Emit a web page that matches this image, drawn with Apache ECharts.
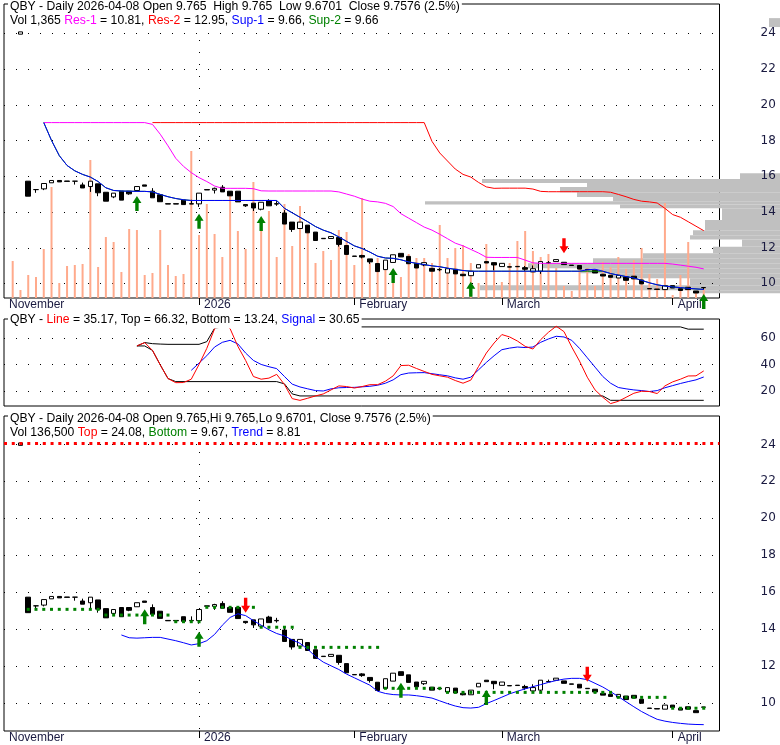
<!DOCTYPE html>
<html><head><meta charset="utf-8">
<script src="https://cdn.jsdelivr.net/npm/echarts@6/dist/echarts.min.js"></script>
<style>html,body{margin:0;padding:0;background:#fff}#c{width:780px;height:745px}</style>
</head><body><div id="c"></div>
<script>
const _ = null;
const dates = ['2025-11-26','2025-11-28',
'2025-12-01','2025-12-02','2025-12-03','2025-12-04','2025-12-05','2025-12-08','2025-12-09','2025-12-10','2025-12-11','2025-12-12','2025-12-15','2025-12-16','2025-12-17','2025-12-18','2025-12-19','2025-12-22','2025-12-23','2025-12-24','2025-12-26','2025-12-29','2025-12-30','2025-12-31',
'2026-01-02','2026-01-05','2026-01-06','2026-01-07','2026-01-08','2026-01-09','2026-01-12','2026-01-13','2026-01-14','2026-01-15','2026-01-16','2026-01-20','2026-01-21','2026-01-22','2026-01-23','2026-01-26','2026-01-27','2026-01-28','2026-01-29','2026-01-30',
'2026-02-02','2026-02-03','2026-02-04','2026-02-05','2026-02-06','2026-02-09','2026-02-10','2026-02-11','2026-02-12','2026-02-13','2026-02-17','2026-02-18','2026-02-19','2026-02-20','2026-02-23','2026-02-24','2026-02-25','2026-02-26','2026-02-27',
'2026-03-02','2026-03-03','2026-03-04','2026-03-05','2026-03-06','2026-03-09','2026-03-10','2026-03-11','2026-03-12','2026-03-13','2026-03-16','2026-03-17','2026-03-18','2026-03-19','2026-03-20','2026-03-23','2026-03-24','2026-03-25','2026-03-26','2026-03-27','2026-03-30','2026-03-31',
'2026-04-01','2026-04-02','2026-04-06','2026-04-07','2026-04-08'];

const opens  = [_,23.95,15.72,15.25,15.29,15.63,15.76,15.73,15.72,15.51, 15.42,15.57,15.10,14.84,15.16,15.16,15.20,15.51,15.16,14.96, 14.46,14.46,14.66,14.46,14.45,15.25,15.22,15.38,15.16,15.16, 14.41,14.49,14.15,14.64,14.46,13.94,13.43,13.07,13.26,12.87, 12.52,12.51,12.57,12.12,11.53,11.56,11.37,11.11,10.77,11.17, 11.68,11.51,11.12,11.03,10.84,10.78,10.58,10.79,10.51,10.43, 10.86,11.22,11.16,10.94,10.93,10.95,10.88,10.64,10.68,11.15, 11.22,11.18,11.02,11.00,10.78,10.73,10.51,10.45,10.30,10.36, 10.40,10.19,9.71,9.68,9.65,9.87,9.70,9.78,9.57,9.765];
const closes = [_,24.08,14.88,15.25,15.59,15.76,15.68,15.71,15.72,15.34, 15.72,15.07,14.60,15.05,14.66,15.01,15.42,15.44,14.79,14.57, 14.44,14.44,14.41,14.44,15.05,15.23,15.32,15.12,14.90,14.56, 14.34,14.22,14.54,14.34,14.44,13.32,13.02,13.43,12.83,12.40, 12.50,12.62,12.18,11.62,11.51,11.47,11.20,10.66,11.30,11.60, 11.48,11.10,10.86,11.16,10.68,10.76,10.82,10.53,10.43,10.68, 11.05,11.14,11.03,11.12,10.91,10.93,10.79,10.82,11.22,11.13, 11.33,11.05,11.00,10.80,10.76,10.58,10.41,10.34,10.45,10.17, 10.25,9.97,9.69,9.66,9.87,9.74,9.60,9.65,9.46,9.7576];
const lows   = [_,23.95,14.88,15.07,15.22,15.63,15.68,15.71,15.53,15.34, 15.12,14.88,14.60,14.77,14.66,14.96,15.20,15.44,14.79,14.57, 14.44,14.44,14.41,14.44,14.28,15.23,15.03,15.12,14.90,14.56, 14.28,14.05,14.09,14.34,14.34,13.32,12.88,13.07,12.83,12.40, 12.50,12.51,12.06,11.62,11.51,11.40,11.09,10.66,10.77,11.17, 11.48,11.10,10.86,10.96,10.68,10.68,10.58,10.53,10.40,10.43, 10.86,11.14,10.73,10.94,10.91,10.93,10.70,10.64,10.53,11.13, 11.22,11.05,11.00,10.80,10.76,10.58,10.41,10.34,10.30,10.17, 10.25,9.97,9.69,9.66,9.65,9.74,9.60,9.65,9.46,9.6701];
const highs  = [_,24.08,15.72,15.25,15.59,15.76,15.76,15.73,15.72,15.64, 15.72,15.57,15.10,15.05,15.16,15.16,15.42,15.51,15.33,14.96, 14.46,14.46,14.66,14.68,15.05,15.25,15.36,15.50,15.16,15.16, 14.41,14.49,14.54,14.71,14.60,14.10,13.43,13.43,13.26,12.87, 12.52,12.62,12.57,12.12,11.53,11.60,11.37,11.11,11.30,11.60, 11.68,11.51,11.12,11.16,10.84,10.85,10.82,10.79,10.51,10.68, 11.05,11.22,11.16,11.12,10.93,10.95,10.97,11.00,11.22,11.25, 11.33,11.18,11.02,11.00,10.78,10.73,10.51,10.45,10.45,10.36, 10.40,10.19,9.71,9.68,9.87,9.87,9.70,9.78,9.57,9.765];
const volumes = [37,8,23,21,49,111,15,32,33,34, 138,31,61,56,26,69,68,23,25,68, 33,22,24,147,63,94,64,41,107,67, 49,116,69,87,41,94,52,92,66,35, 47,38,68,66,33,100,35,40,28,29, 21,44,40,40,35,73,40,50,53,35, 15,54,36,16,35,57,67,47,41,44, 30,12,7,30,30,12,36,31,41,29, 38,50,24,19,95,3,23,56,6,10];

const res1 = [_,_,_,_,19,19,19,19,19,19,19,19,19,19,19,19,19,19, 18.9,18.35,17.7,17.0,16.55,16.2,15.92,15.7,15.45,15.32, 15.32,15.32,15.32,15.3,15.18,15.17,15.17,15.17,15.17,15.17, 15.17,15.17,15.17,15.17,15.12,15.0,14.88,14.72,14.6,14.56, 14.48,14.3,13.9,13.65,13.4,13.15,12.98,12.75,12.5,12.25, 12.1,11.9,11.7,11.46,11.45,11.45,11.45,11.45,11.3,11.15, 11.12,11.12,11.12,11.12,11.12,11.12,11.12,11.12,11.12,11.12,11.12,11.12,11.12,11.12,11.12,11.12,11.12, 11.08,11.02,10.96,10.9,10.81];
const res2 = [_,_,_,_,_,_,_,_,_,_,_,_,_,_,_,_,_,_, 19,19,19,19,19,19,19,19,19,19,19,19,19,19,19,19,19,19,19,19,19,19,19,19,19,19,19,19,19,19,19,19,19,19,19,19, 17.95,17.3,16.85,16.4,16.1,15.95,15.65,15.4, 15.32,15.33,15.33,15.33,15.33, 15.28,15.15, 15.13,15.13,15.13,15.13,15.13,15.13,15.13,15.13, 15.1,14.98,14.85,14.7,14.6,14.56,14.5,14.2,13.85,13.7,13.45,13.2,12.95];
const sup1 = [_,_,_,_,19.0,18.0,17.15,16.6,16.3,16.1,15.95,15.7,15.35,15.2, 15.17,15.16,15.15,15.15,15.12,14.98,14.85,14.75,14.68, 14.64,14.64,14.64,14.64,14.64,14.64,14.64,14.64,14.64,14.64,14.64,14.64, 14.2,13.95,13.7,13.45,13.18,12.98,12.83,12.6,12.35,12.1, 11.95,11.75,11.52,11.42,11.4,11.32,11.2,11.12,11.05,10.98, 10.93,10.85,10.78,10.72, 10.68,10.68,10.68,10.68,10.68,10.68,10.68,10.68,10.68,10.68,10.68,10.68,10.68,10.68,10.68, 10.76,10.79, 10.68,10.55,10.46,10.38,10.3,10.17,10.03,9.92,9.85,9.8,9.76,9.72,9.69,9.66];
const sup2 = [_,_,_,_,19.0,18.0,17.15,16.6,16.3,16.1,15.95,15.7,15.35,15.2, 15.17,15.16,15.15,15.15,15.12,14.98,14.85,14.75,14.68, 14.64,14.64,14.64,14.64,14.64,14.64,14.64,14.64,14.64,14.64,14.64,14.64, 14.2,13.95,13.7,13.45,13.18,12.98,12.83,12.6,12.35,12.1, 11.95,11.75,11.52,11.42,11.4,11.32,11.2,11.12,11.05,10.98, 10.93,10.85,10.78,10.72, 10.68,10.68,10.68,10.68,10.68,10.68,10.68,10.68,10.68,10.68,10.68,10.68,10.68,10.68,10.68, 10.68,10.68, 10.68,10.55,10.46,10.38,10.3,10.17,10.03,9.92,9.85,9.8,9.76,9.72,9.69,9.66];

const vbpLow  = [24.35,15.84,15.62,15.40,15.10,14.83,14.60,14.42,14.20,13.54,12.98,12.70,12.46,12.05,11.68,11.40,11.12,10.84,10.56,10.28,9.90,9.62,9.44];
const vbpHigh = [24.85,16.17,15.84,15.62,15.40,15.10,14.83,14.60,14.42,14.20,13.54,12.98,12.70,12.46,12.05,11.68,11.40,11.12,10.84,10.56,10.28,9.90,9.62];
const vbpVol  = [11,40,298,193,220,203,167,355,160,58,75,87,90,38,67,137,187,252,200,170,90,300,87];

const upTopIdx = [16,24,32,49,59,89], upTopVal = [14.89,13.9,13.77,10.86,10.09,9.4];
const dnTopIdx = [71], dnTopVal = [11.68];

const oscLine = [_,_,_,_,_,_,_,_,_,_,_,_,_,_,_,_, 53.8,56.3,50.5,39.7,29.5,26.4,26.5,29,40,52, 66.5,71,66.7,53.5,43,31,29,29.8,32.6,25, 14.5,13.2,14.8,16.5,18,21,24,23.5,22.4,23.5, 24.9,24.9,27.5,31.5,39.2,39.4,37,34.8,32.6,31.5, 30.5,28,26,28.3,38.5,48.5,56,62.3,60.5,57.5, 53.5,51.5,58.5,64,68.5,64.5,53,42.5,30.5,21, 15.5,10.8,12.5,15.5,18.5,20,19.8,18.3,24,27, 29,31.4,31.5,35.17];
const oscSignal = [_,_,_,_,_,_,_,_,_,_,_,_,_,_,_,_,_,_,_,_,_,_,_, 35.6,41,46.5,53,56.5,58,55.3, 48.5,43,40,38.3,36.9,31,25.3,23.2,21.8,20.5, 20.2,21.8,22.6,22.8,22.9,23.3,23.7,24.5,26,28.5, 32.4,33.6,33.8,33.9,33.1,32.3,31.5,30,29,30.5, 36,41.5,46.5,51,52.2,53,52.6,53,56.5,59, 61,60.5,58,52,45,38,31,26,22.8,21.8, 21,20.5,19.8,20.5,22.6,24.2,25.8,27.2,28.5,30.65];
const oscTopIdx = [16,17,18,19,20,24,25,26,27,86,87,89];
const oscTopVal = [53.8,56.3,55.5,55.2,55,55,57,67,68,68,66.32,66.32];
const oscBotIdx = [16,17,18,19,20,21,34,35,36,37,76,77,89];
const oscBotVal = [53.8,53.8,50.5,39.7,29.5,27.2,27.2,25.5,18,16.5,16.5,13.24,13.24];

const trend = [_,_,_,_,_,_,_,_,_,_,_,_,_,_, 13.67,13.52,13.5,13.52,13.54,13.54,13.45,13.36,13.25,13.13, 13.2,13.36,13.7,14.2,14.62,14.82,14.72,14.45,14.2,13.95, 13.75,13.62,13.4,13.22,12.9,12.5,12.2,12.0,11.8,11.55, 11.35,11.15,10.95,10.62,10.5,10.44,10.42,10.42,10.38,10.32, 10.25,10.1,9.95,9.82,9.73,9.71,9.75,9.95,10.12,10.3, 10.48,10.62,10.75,10.87,10.98,11.1,11.2,11.28,11.32,11.32, 11.25,11.05,10.85,10.6,10.33,10.05,9.78,9.52,9.3,9.1, 9.0,8.93,8.88,8.84,8.82,8.81];
const botSegStart = [2,12,21,25,32,37,48,56,78,85];
const botSegEnd   = [11,20,24,31,36,47,55,77,84,89];
const botSegVal   = [15.06,14.75,14.39,15.17,14.09,13.0,10.78,10.56,10.29,9.70];
const TOP_LEVEL = 24.08;
const upBotIdx = [17,24,50,61], upBotVal = [15.06,13.85,11.08,10.69];
const dnBotIdx = [30,74], dnBotVal = [14.88,11.14];

const priceTicks = [10,12,14,16,18,20,22,24];
const oscTicks = [20,40,60];
const firstLabel = 'November';
const tickDates = ['2026-01-02','2026-02-02','2026-03-02','2026-04-01'];
const tickLabels = ['2026','February','March','April'];

// ---- layout ----
const X_MIN = -1.12, X_MAX = 91.03;
const TOP_MIN = 9.18, TOP_MAX = 25.64;
const OSC_MIN = 9.0, OSC_MAX = 73.9;
const BOT_MIN = 8.466, BOT_MAX = 25.54;
const FONT = '"Liberation Sans", Arial, sans-serif';
const NUM_FONT = '"DejaVu Sans", sans-serif';
const LABEL_COLOR = '#1a1a40';
const HFS = 12.2;

const tickIdx = tickDates.map(d => dates.indexOf(d));
const yearIdx = tickIdx.filter((i, k) => /^\d{4}$/.test(tickLabels[k]));
const pts = arr => arr.map((v, i) => v == null ? null : [i, v]).filter(Boolean);
const zip = (a, b) => a.map((v, i) => [v, b[i]]);
const candleData = opens.map((o, i) => o == null ? null : [i, o, closes[i], lows[i], highs[i]]).filter(Boolean);
const volData = volumes.map((v, i) => [i, v]);
const botDots = [];
botSegStart.forEach((s, k) => { for (let i = s; i <= botSegEnd[k]; i++) botDots.push([i, botSegVal[k]]); });
const vbpData = vbpLow.map((l, i) => [l, vbpHigh[i], vbpVol[i]]);

const UP = 'path://M4.5,0L9,7L6.2,7L6.2,15L2.8,15L2.8,7L0,7Z';
const DN = 'path://M2.8,0L6.2,0L6.2,8L9,8L4.5,15L0,8L2.8,8Z';

function hLine(params, api) {
  const cs = params.coordSys;
  const y = Math.round(api.coord([0, api.value(1)])[1]) + 0.5;
  return {type: 'line', shape: {x1: cs.x, y1: y, x2: cs.x + cs.width, y2: y},
    style: {stroke: '#000', lineWidth: 1, lineDash: [1, 11]}};
}
function vLine(params, api) {
  const cs = params.coordSys;
  const x = Math.round(api.coord([api.value(0), api.value(1)])[0]) + 0.5;
  return {type: 'line', shape: {x1: x, y1: cs.y, x2: x, y2: cs.y + cs.height},
    style: {stroke: '#000', lineWidth: 1, lineDash: [1, 11]}};
}
function vbpItem(params, api) {
  const p1 = api.coord([api.value(2), api.value(1)]);
  const p0 = api.coord([0, api.value(0)]);
  return {type: 'rect', shape: {x: p1[0], y: p1[1], width: p0[0] - p1[0], height: p0[1] - p1[1]},
    style: {fill: '#c0c0c0'}};
}

function xAxisCfg(gridIndex, show) {
  return {type: 'value', gridIndex, min: X_MIN, max: X_MAX, splitLine: {show: false}, axisLine: {show: false},
    axisTick: show ? {show: true, customValues: tickIdx, length: 7, lineStyle: {color: '#000', width: 1}} : {show: false},
    axisLabel: show ? {show: true, customValues: [X_MIN].concat(tickIdx),
      formatter: v => v < 0 ? firstLabel : tickLabels[tickIdx.indexOf(Math.round(v))],
      align: 'left', padding: [0, 0, 0, 5], margin: 1, fontFamily: FONT, fontSize: 12, color: LABEL_COLOR} : {show: false}};
}
function yAxisCfg(gridIndex, min, max, ticks) {
  return {type: 'value', gridIndex, position: 'right', min, max, z: 10,
    splitLine: {show: false}, axisLine: {show: false}, axisTick: {show: false},
    axisLabel: ticks ? {show: true, customValues: ticks, margin: 41, fontFamily: NUM_FONT, fontSize: 12, color: LABEL_COLOR} : {show: false}};
}
const lineS = (x, y, data, color, z) => ({type: 'line', xAxisIndex: x, yAxisIndex: y, data, symbol: 'none', showSymbol: false,
  lineStyle: {color, width: 1}, itemStyle: {color}, z: z || 4, silent: true, animation: false});
const arrowS = (x, y, data, color, up) => ({type: 'scatter', xAxisIndex: x, yAxisIndex: y, data, symbol: up ? UP : DN,
  symbolSize: [9, 15], symbolOffset: [0, up ? 7.5 : -7.5], itemStyle: {color, opacity: 1}, z: 6, silent: true});
const candleS = (x, y) => ({type: 'candlestick', xAxisIndex: x, yAxisIndex: y, data: candleData,
  encode: {x: 0, y: [1, 2, 3, 4]}, barWidth: 5, z: 3, silent: true,
  itemStyle: {color: '#fff', color0: '#000', borderColor: '#000', borderColor0: '#000', borderColorDoji: '#000', borderWidth: 1}});
const txt = (top, text, rich) => ({left: 8, top, padding: [1, 2, 2, 2], backgroundColor: '#fff', text,
  textStyle: {fontFamily: FONT, fontSize: HFS, fontWeight: 'normal', color: '#000', lineHeight: 13, rich}});
const R = c => ({color: c, fontFamily: FONT, fontSize: HFS, lineHeight: 13});
const rich = {k: R('#000'), m: R('#ff00ff'), r: R('#ff0000'), b: R('#0000ff'), g: R('#008000')};

const option = {
  animation: false,
  backgroundColor: '#fff',
  title: [
    txt(-1, 'QBY - Daily 2026-04-08 Open 9.765  High 9.765  Low 9.6701  Close 9.7576 (2.5%)'),
    txt(13.5, '{k|Vol 1,365 }{m|Res-1}{k| = 10.81, }{r|Res-2}{k| = 12.95, }{b|Sup-1}{k| = 9.66, }{g|Sup-2}{k| = 9.66}', rich),
    txt(312.5, '{k|QBY - }{r|Line}{k| = 35.17, Top = 66.32, Bottom = 13.24, }{b|Signal}{k| = 30.65}', rich),
    txt(410.8, 'QBY - Daily 2026-04-08 Open 9.765,Hi 9.765,Lo 9.6701, Close 9.7576 (2.5%)'),
    txt(425.2, '{k|Vol 136,500 }{r|Top}{k| = 24.08, }{g|Bottom}{k| = 9.67, }{b|Trend}{k| = 8.81}', rich)
  ],
  grid: [
    {left: 4, top: 4, width: 715.5, height: 294, show: true, borderColor: '#000', borderWidth: 1, backgroundColor: 'transparent'},
    {left: 4, top: 319, width: 715.5, height: 87, show: true, borderColor: '#000', borderWidth: 1, backgroundColor: 'transparent'},
    {left: 4, top: 416, width: 715.5, height: 315, show: true, borderColor: '#000', borderWidth: 1, backgroundColor: 'transparent'},
    {left: 4, top: 4, width: 776, height: 294, show: false}
  ],
  xAxis: [
    xAxisCfg(0, true), xAxisCfg(1, false), xAxisCfg(2, true),
    {type: 'value', gridIndex: 3, inverse: true, min: 0, max: 776, show: false}
  ],
  yAxis: [
    yAxisCfg(0, TOP_MIN, TOP_MAX, priceTicks),
    {type: 'value', gridIndex: 0, min: 0, max: 294, show: false},
    yAxisCfg(1, OSC_MIN, OSC_MAX, oscTicks),
    yAxisCfg(2, BOT_MIN, BOT_MAX, priceTicks),
    {type: 'value', gridIndex: 3, min: TOP_MIN, max: TOP_MAX, show: false}
  ],
  series: [
    {type: 'custom', xAxisIndex: 3, yAxisIndex: 4, data: vbpData, encode: {x: 2, y: [0, 1]}, renderItem: vbpItem, z: 0, silent: true},
    {type: 'custom', xAxisIndex: 0, yAxisIndex: 0, data: priceTicks.map(v => [0, v]), encode: {x: 0, y: 1}, renderItem: hLine, z: 1, silent: true},
    {type: 'custom', xAxisIndex: 0, yAxisIndex: 0, data: yearIdx.map(i => [i, TOP_MIN]), encode: {x: 0, y: 1}, renderItem: vLine, z: 1, silent: true},
    {type: 'bar', xAxisIndex: 0, yAxisIndex: 1, data: volData, barWidth: 2, itemStyle: {color: '#ffaa8c'}, z: 2, silent: true},
    candleS(0, 0),
    lineS(0, 0, pts(res1), '#ff00ff'),
    lineS(0, 0, pts(res2), '#ff0000'),
    lineS(0, 0, pts(sup2), '#008000'),
    lineS(0, 0, pts(sup1), '#0000ff'),
    arrowS(0, 0, zip(upTopIdx, upTopVal), '#008000', true),
    arrowS(0, 0, zip(dnTopIdx, dnTopVal), '#ff0000', false),

    {type: 'custom', xAxisIndex: 1, yAxisIndex: 2, data: oscTicks.map(v => [0, v]), encode: {x: 0, y: 1}, renderItem: hLine, z: 1, silent: true},
    lineS(1, 2, zip(oscTopIdx, oscTopVal), '#000000'),
    lineS(1, 2, zip(oscBotIdx, oscBotVal), '#000000'),
    lineS(1, 2, pts(oscSignal), '#0000ff'),
    lineS(1, 2, pts(oscLine), '#ff0000'),

    {type: 'custom', xAxisIndex: 2, yAxisIndex: 3, data: priceTicks.map(v => [0, v]), encode: {x: 0, y: 1}, renderItem: hLine, z: 1, silent: true},
    {type: 'custom', xAxisIndex: 2, yAxisIndex: 3, data: yearIdx.map(i => [i, BOT_MIN]), encode: {x: 0, y: 1}, renderItem: vLine, z: 1, silent: true},
    candleS(2, 3),
    {type: 'scatter', xAxisIndex: 2, yAxisIndex: 3, data: botDots, symbol: 'rect', symbolSize: 3, itemStyle: {color: '#008000', opacity: 1}, z: 4, silent: true},
    Object.assign(lineS(2, 3, pts(trend), '#0000ff'), {
      markLine: {silent: true, symbol: 'none', label: {show: false}, animation: false,
        lineStyle: {color: '#ff0000', width: 3, type: [3, 4.76]}, data: [{yAxis: TOP_LEVEL}]}
    }),
    arrowS(2, 3, zip(upBotIdx, upBotVal), '#008000', true),
    arrowS(2, 3, zip(dnBotIdx, dnBotVal), '#ff0000', false)
  ]
};
const chart = echarts.init(document.getElementById('c'), null, {renderer: 'canvas', width: 780, height: 745});
chart.setOption(option);
</script>
</body></html>
